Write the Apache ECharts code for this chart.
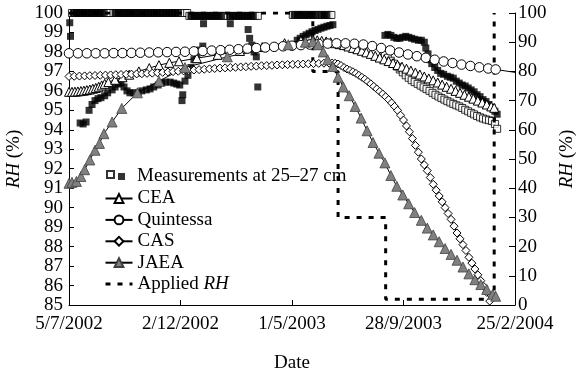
<!DOCTYPE html>
<html>
<head>
<meta charset="utf-8">
<script src="https://cdn.jsdelivr.net/npm/echarts@6/dist/echarts.min.js"></script>
<style>
html, body { margin: 0; padding: 0; background: #fff; }
#chart { width: 578px; height: 382px; }
</style>
</head>
<body>
<div id="chart"></div>
<script>
// x values: days since 5 July 2002; left axis RH (%), right axis applied RH (%)
const xTickLabels = ['5/7/2002', '2/12/2002', '1/5/2003', '28/9/2003', '25/2/2004'];

const measuredOpen = [
  [4,100],[8,100],[12,100],[16,100],[20,100],[24,100],[28,100],[32,100],[36,100],[40,100],
  [44,100],[48,100],[52,100],[56,100],[60,100],[64,100],[68,100],[72,100],[76,100],[80,100],
  [84,100],[88,100],[92,100],[96,100],[100,100],[104,100],[108,100],[112,100],[116,100],[120,100],
  [124,100],[128,100],[132,100],[136,100],[140,100],[144,100],[148,100],[152,100],[156,100],[159,100],
  [162,99.85],[166,99.85],[170,99.85],[174,99.85],[178,99.85],[182,99.85],[186,99.85],[190,99.85],
  [194,99.85],[198,99.85],[202,99.85],[206,99.85],[210,99.85],[214,99.85],[218,99.85],[222,99.85],
  [226,99.85],[230,99.85],[234,99.85],[238,99.85],[242,99.85],[246,99.85],[250,99.85],[254,99.85],
  [301,99.9],[305,99.9],[309,99.9],[313,99.9],[317,99.9],[321,99.9],[325,99.9],[329,99.9],
  [333,99.9],[337,99.9],[341,99.9],[345,99.9],[349,99.9],[353,99.9],
  [425,97.85],[429,97.7],[433,97.55],[437,97.4],[441,97.25],[445,97.1],[449,96.95],[453,96.8],
  [457,96.67],[461,96.55],[465,96.45],[469,96.36],[473,96.27],[477,96.18],[481,96.09],[485,96.0],
  [489,95.9],[493,95.8],[497,95.71],[501,95.63],[505,95.55],[509,95.47],[513,95.4],[517,95.33],
  [521,95.26],[525,95.2],[529,95.12],[533,95.03],[537,94.95],[541,94.87],[545,94.79],[549,94.71],
  [553,94.64],[557,94.58],[561,94.53],[565,94.49],[569,94.45],[573,94.3],[576,94.05]
];

const measuredFilled = [
  // saturated readings
  [6,100],[10,100],[14,100],[18,100],[22,100],[26,100],[30,100],[34,100],[38,100],[42,100],
  [46,100],[62,100],[66,100],[70,100],[74,100],[78,100],[82,100],[86,100],[90,100],[94,100],
  [98,100],[102,100],[106,100],[110,100],[114,100],[118,100],[122,100],[126,100],[130,100],
  [134,100],[138,100],[142,100],[146,100],
  [164,99.85],[168,99.85],[172,99.85],[176,99.85],[180,99.85],[184,99.85],[188,99.85],[192,99.85],
  [196,99.85],[200,99.85],[204,99.85],[216,99.85],[220,99.85],[224,99.85],[228,99.85],[232,99.85],
  [236,99.85],[240,99.85],[244,99.85],[248,99.85],
  [303,99.9],[307,99.9],[311,99.9],[315,99.9],[319,99.9],[323,99.9],[327,99.9],[331,99.9],
  [339,99.9],[343,99.9],[347,99.9],
  // transient readings
  [1,99.5],[2,98.8],
  [15,94.35],[19,94.3],[23,94.4],[27,95.0],[31,95.3],[35,95.5],[39,95.6],[43,95.65],[48,95.75],
  [52,95.9],[58,96.05],[62,96.2],[66,96.35],[70,96.4],[74,96.2],[78,96.0],[82,95.9],[87,95.9],
  [93,95.9],[98,96.0],[104,96.05],[109,96.1],[114,96.2],[120,96.3],[125,96.4],[130,96.45],
  [136,96.45],[141,96.4],[145,96.35],[149,96.3],[152,95.5],[153,95.8],[156,96.5],[160,96.8],
  [164,97.2],[168,97.6],[172,97.9],[176,98.1],[180,98.3],[181,99.45],[217,99.45],[241,99.15],
  [243,98.7],[246,98.35],[249,98.0],[252,97.75],[254,96.2],
  [307,98.6],[311,98.7],[315,98.8],[319,98.88],[323,98.96],[327,99.04],[331,99.1],[335,99.16],
  [339,99.22],[343,99.27],[347,99.32],[351,99.36],[355,99.4],
  [425,98.85],[429,98.9],[433,98.85],[437,98.75],[441,98.7],[445,98.7],[449,98.75],[453,98.8],
  [457,98.75],[461,98.7],[465,98.65],[470,98.6],[474,98.6],[478,98.5],[480,98.2],[483,97.9],
  [486,97.6],[488,97.4],[492,97.2],[496,97.05],[500,96.9],[504,96.85],[509,96.75],[513,96.7],
  [517,96.65],[521,96.5],[525,96.4],[529,96.3],[533,96.25],[537,96.15],[541,96.05],[545,95.95],
  [549,95.8],[553,95.7],[557,95.55],[561,95.45],[565,95.3],[569,95.15],[573,94.95],[576,94.8]
];

const cea = [
  [0,95.95],[4,95.95],[8,95.96],[12,95.97],[16,95.99],[20,96.01],[24,96.04],[28,96.07],[32,96.11],
  [36,96.15],[40,96.21],[44,96.28],[48,96.36],[53,96.45],[62,96.57],[72,96.7],[81,96.83],[94,97.0],
  [108,97.17],[121,97.32],[135,97.44],[148,97.52],[172,97.68],[200,97.85],[230,98.05],[260,98.25],
  [290,98.45],[312,98.58],[328,98.62],
  [334,98.6],[340,98.57],[346,98.54],[352,98.5],[358,98.45],[364,98.4],[370,98.35],[376,98.28],
  [382,98.21],[388,98.14],[394,98.06],[400,97.98],[406,97.9],[412,97.8],[418,97.71],[424,97.62],
  [430,97.53],[436,97.43],[442,97.33],[448,97.24],[454,97.14],[460,97.04],[466,96.94],[472,96.84],
  [478,96.74],[484,96.64],[490,96.54],[496,96.43],[502,96.32],[508,96.21],[514,96.11],[520,96.0],
  [526,95.9],[532,95.8],[538,95.7],[544,95.6],[550,95.5],[556,95.4],[562,95.3],[568,95.2],[572,95.13]
];

const quintessa = [
  [0,97.93],[12,97.93],[24,97.93],[36,97.93],[48,97.93],[60,97.94],[72,97.94],[84,97.95],[96,97.96],
  [108,97.97],[120,97.98],[132,97.99],[144,98.0],[156,98.01],[168,98.03],[180,98.05],[192,98.07],
  [204,98.09],[216,98.11],[228,98.14],[240,98.17],[252,98.2],[264,98.23],[276,98.26],[288,98.29],
  [300,98.32],[312,98.35],[324,98.38],[336,98.41],[348,98.43],[360,98.44],[372,98.44],[384,98.42],
  [396,98.38],[408,98.3],[420,98.2],[432,98.08],[444,97.97],[456,97.87],[468,97.78],[480,97.7],
  [492,97.6],[504,97.51],[516,97.43],[528,97.35],[540,97.28],[552,97.21],[564,97.15],[574,97.1]
];
// last computed value, drawn as line only
const quintessaEnd = [600, 96.95];

const cas = [
  [0,96.74],[7,96.75],[14,96.76],[21,96.77],[28,96.78],[35,96.79],[42,96.8],[49,96.81],[56,96.82],
  [63,96.83],[70,96.84],[77,96.85],[84,96.86],[91,96.87],[98,96.88],[105,96.9],[112,96.91],
  [119,96.93],[126,96.95],[133,96.97],[140,96.99],[147,97.01],[154,97.03],[161,97.05],[168,97.07],
  [175,97.09],[182,97.11],[189,97.13],[196,97.15],[203,97.17],[210,97.18],[217,97.2],[224,97.21],
  [231,97.23],[238,97.24],[245,97.26],[252,97.27],[259,97.29],[266,97.3],[273,97.31],[280,97.33],
  [287,97.34],[294,97.35],[301,97.36],[308,97.37],[315,97.38],[322,97.39],[329,97.4],[336,97.41],
  [343,97.42],[350,97.42],[354,97.43],
  [358,97.42],[362,97.38],[366,97.3],[370,97.2],[374,97.12],[378,97.05],[382,96.98],[386,96.9],
  [390,96.8],[394,96.7],[398,96.6],[402,96.48],[406,96.36],[410,96.23],[414,96.1],[418,95.97],
  [422,95.84],[426,95.7],[430,95.55],[434,95.38],[438,95.2],[442,95.0],[446,94.75],[450,94.5],
  [454,94.2],[458,93.9],[462,93.55],[466,93.2],[470,92.85],[474,92.5],[478,92.2],[482,91.9],
  [486,91.55],[490,91.2],[494,90.9],[498,90.6],[502,90.3],[506,90.0],[510,89.7],[514,89.4],
  [518,89.05],[522,88.7],[526,88.4],[530,88.1],[534,87.8],[538,87.45],[542,87.15],[546,86.85],
  [550,86.55],[554,86.25],[558,85.95],[562,85.65],[566,85.2]
];

const jaea = [
  [0,91.25],[4,91.3],[10,91.35],[16,91.6],[21,91.95],[28,92.45],[35,92.95],[41,93.3],[47,93.8],
  [58,94.4],[71,95.1],[92,95.9],[121,96.5],[156,97.2],[213,97.75],[295,98.37],[318,98.5],[328,98.52],
  [335,98.37],[342,98.0],[348,97.6],[355,97.25],[362,96.7],[369,96.2],[377,95.75],[385,95.2],
  [393,94.6],[401,93.95],[409,93.35],[417,92.8],[425,92.3],[433,91.65],[441,91.1],[449,90.65],
  [457,90.2],[465,89.75],[474,89.35],[482,88.95],[490,88.6],[498,88.25],[506,87.9],[514,87.6],
  [522,87.3],[530,86.95],[538,86.6],[546,86.3],[554,86.05],[562,85.8],[570,85.55],[574,85.45]
];

// boundary condition (right axis)
const appliedRH = [
  [0,100],[328,100],[328,80],[362,80],[362,30],[426,30],[426,2],[572,2],[572,100]
];

const FONT = '"Liberation Serif", "DejaVu Serif", serif';
const NAME_OPEN = 'Measurements at 25–27 cm (open)';
const NAME_MEAS = 'Measurements at 25–27 cm';
const textBase = { fontFamily: FONT, fontSize: 19, color: '#000' };
const italicRich = { i: { fontFamily: FONT, fontSize: 19, fontStyle: 'italic', color: '#000' } };

const hollow = { color: '#fff', borderColor: '#000', borderWidth: 1 };
const blackLine = { color: '#000', width: 1 };

const chart = echarts.init(document.getElementById('chart'), null, { renderer: 'canvas' });

chart.setOption({
  animation: false,
  backgroundColor: '#fff',
  grid: { left: 69, right: 63, top: 13, bottom: 77, containLabel: false, outerBoundsMode: 'none' },
  xAxis: {
    type: 'value', min: 0, max: 600, interval: 150,
    name: 'Date', nameLocation: 'middle', nameGap: 49,
    nameTextStyle: textBase,
    axisLine: { onZero: false, lineStyle: { color: '#000', width: 1 } },
    axisTick: { inside: true, length: 5, lineStyle: { color: '#000' } },
    axisLabel: Object.assign({ margin: 10, formatter: v => xTickLabels[Math.round(v / 150)] }, textBase),
    splitLine: { show: false }
  },
  yAxis: [
    {
      type: 'value', min: 85, max: 100, interval: 1, position: 'left',
      name: '{i|RH} (%)', nameLocation: 'middle', nameRotate: 90, nameGap: 42,
      nameTextStyle: Object.assign({ rich: italicRich }, textBase),
      axisLine: { show: true, lineStyle: { color: '#000', width: 1 } },
      axisTick: { show: true, inside: true, length: 5, lineStyle: { color: '#000' } },
      axisLabel: Object.assign({ margin: 6 }, textBase),
      splitLine: { show: false }
    },
    {
      type: 'value', min: 0, max: 100, interval: 10, position: 'right',
      name: '{i|RH} (%)', nameLocation: 'middle', nameRotate: 90, nameGap: 41,
      nameTextStyle: Object.assign({ rich: italicRich }, textBase),
      axisLine: { show: true, lineStyle: { color: '#000', width: 1 } },
      axisTick: { show: true, inside: true, length: 6, lineStyle: { color: '#000' } },
      axisLabel: Object.assign({ margin: 3 }, textBase),
      splitLine: { show: false }
    }
  ],
  legend: [
    {
      data: [NAME_OPEN], left: 106, top: 170, itemWidth: 7, itemHeight: 7,
      formatter: () => '', selectedMode: false, padding: 0,
      textStyle: textBase
    },
    {
      data: [NAME_MEAS], left: 118, top: 167, itemWidth: 7, itemHeight: 7,
      selectedMode: false, padding: 0,
      textStyle: Object.assign({ lineHeight: 19, padding: [0, 0, 0, 7] }, textBase)
    },
    {
      data: [
        { name: 'CEA' }, { name: 'Quintessa' }, { name: 'CAS' }, { name: 'JAEA' },
        { name: 'Applied RH', lineStyle: { width: 3 },
          itemStyle: { color: 'rgba(0,0,0,0)', borderWidth: 0, opacity: 0 } }
      ],
      orient: 'vertical', left: 104, top: 189, itemWidth: 27, itemHeight: 11, itemGap: 2.4,
      selectedMode: false, padding: 0,
      lineStyle: { width: 2 },
      formatter: n => n === 'Applied RH' ? 'Applied {i|RH}' : n,
      textStyle: Object.assign({ lineHeight: 19, rich: italicRich }, textBase)
    }
  ],
  series: [
    {
      name: 'Applied RH', type: 'line', yAxisIndex: 1, data: appliedRH,
      symbol: 'none', lineStyle: { color: '#000', width: 3, type: [5, 7] },
      itemStyle: { color: '#000' }
    },
    {
      name: NAME_OPEN, type: 'scatter', data: measuredOpen,
      symbol: 'rect', symbolSize: 7, itemStyle: hollow
    },
    {
      name: NAME_MEAS, type: 'scatter', data: measuredFilled,
      symbol: 'rect', symbolSize: 7, itemStyle: { color: '#000' }
    },
    {
      name: 'CEA', type: 'line', data: cea,
      symbol: 'triangle', symbolSize: 9, lineStyle: blackLine, itemStyle: hollow
    },
    {
      name: 'Quintessa', type: 'line',
      data: quintessa.concat([{ value: quintessaEnd, symbol: 'none' }]),
      symbol: 'circle', symbolSize: 9.5, lineStyle: blackLine, itemStyle: hollow
    },
    {
      name: 'CAS', type: 'line', data: cas,
      symbol: 'diamond', symbolSize: 8, lineStyle: blackLine, itemStyle: hollow
    },
    {
      name: 'JAEA', type: 'line', data: jaea,
      symbol: 'triangle', symbolSize: 10, lineStyle: blackLine,
      itemStyle: { color: '#808080', borderColor: '#404040', borderWidth: 0.8 }
    }
  ]
});
</script>
</body>
</html>
